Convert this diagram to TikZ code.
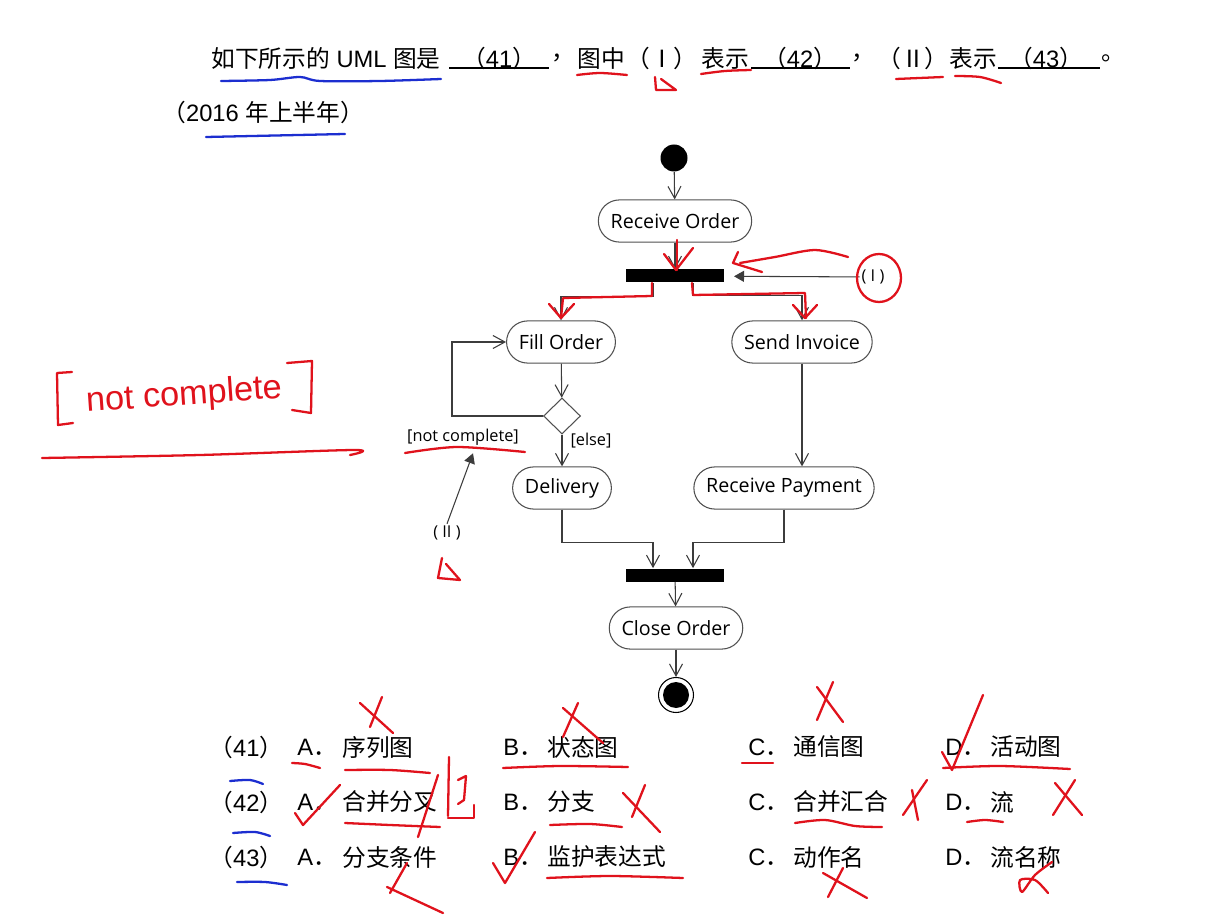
\documentclass[tikz,border=0pt]{standalone}
\usepackage{fontspec}
\setmainfont{Liberation Sans}
\newfontfamily\zhfont{Noto Sans CJK SC}
\newfontfamily\uifont{Open Sans}
\usetikzlibrary{arrows.meta,positioning,calc,shapes.geometric}
\definecolor{cline}{HTML}{3C3C3C}
\definecolor{cedge}{HTML}{505050}
\definecolor{cink}{HTML}{E0121C}
\definecolor{cpen}{HTML}{1C2ED0}

\begin{document}
\begin{tikzpicture}[
  x=0.02cm,y=-0.02cm,
  font=\fontsize{13.5}{16}\selectfont,
  act/.style={draw=cedge,fill=white,rounded corners=12pt,minimum height=24pt,
              inner xsep=7pt,line width=0.6pt,font=\uifont\fontsize{11.2}{13}\selectfont},
  syncbar/.style={fill=black,minimum width=1.96cm,minimum height=0.26cm,inner sep=0pt},
  startdot/.style={circle,fill=black,minimum size=0.54cm,inner sep=0pt},
  enddot/.style={circle,draw=black,line width=0.6pt,minimum size=0.7cm,inner sep=0pt,
                 path picture={\fill[black] (path picture bounding box.center) circle (0.26cm);}},
  decision/.style={diamond,draw=cedge,fill=white,minimum width=0.74cm,minimum height=0.72cm,
                   inner sep=0pt,line width=0.6pt},
  flow/.style={-{Straight Barb[length=2.4mm,width=2.6mm]},line width=0.6pt,cline},
  pointer/.style={-{Triangle[length=2mm,width=2.2mm]},line width=0.6pt,cline},
  guard/.style={font=\uifont\fontsize{9.3}{11}\selectfont,inner sep=1pt},
  txt/.style={anchor=west,inner sep=0pt},
  blank/.style={line width=1pt,black},
  ink/.style={draw=cink,line width=1.3pt,line cap=round,line join=round},
  pen/.style={draw=cpen,line width=1.3pt,line cap=round,line join=round}]
  \fill[white] (0,0) rectangle (1226,918);
  \useasboundingbox (0,0) rectangle (1226,918);
  % question
  \node[txt] (q0) at (211,58) {{\zhfont 如下所示的} UML {\zhfont 图是}};
  \node[inner sep=0pt] (b41) at (499,58) {{\zhfont （}41{\zhfont ）}};
  \draw[blank] (449,68) -- (549,68);
  \node[txt] (c1) at (551,58) {\zhfont ，};
  \node[txt] (q1) at (577,58) {\zhfont 图中};
  \node[inner sep=0pt] (r1) at (662,58) {\zhfont （Ⅰ）};
  \node[txt] (q2) at (701,58) {\zhfont 表示};
  \node[inner sep=0pt] (b42) at (800,58) {{\zhfont （}42{\zhfont ）}};
  \draw[blank] (751,68) -- (850,68);
  \node[txt] (c2) at (851,58) {\zhfont ，};
  \node[inner sep=0pt] (r2) at (913,58) {\zhfont （Ⅱ）};
  \node[txt] (q3) at (949,58) {\zhfont 表示};
  \node[inner sep=0pt] (b43) at (1046,58) {{\zhfont （}43{\zhfont ）}};
  \draw[blank] (998,68) -- (1100,68);
  \node[txt] (c3) at (1101,58) {\zhfont 。};
  \node[txt] (yr) at (162,112) {{\zhfont （}2016 {\zhfont 年上半年）}};
  % activity diagram
  \node[startdot] (start) at (674,158) {};
  \node[act] (recv) at (675,221) {Receive Order};
  \node[syncbar] (fork) at (675,276) {};
  \node[act] (fill) at (561,342) {Fill Order};
  \node[act] (send) at (802,342) {Send Invoice};
  \node[decision] (dec) at (562,416) {};
  \node[act] (deliv) at (562,488) {Delivery};
  \node[act] (pay) at (784,488) {Receive Payment};
  \node[syncbar] (join) at (675,575) {};
  \node[act] (close) at (676,628) {Close Order};
  \node[enddot] (stop) at (676,695) {};
  \node[guard] (nc) at (463,437) {[not complete]};
  \node[guard] (els) at (591,441) {[else]};
  \node[guard] (li) at (873,277) {( I )};
  \node[guard] (lii) at (447,533) {( II )};
  \draw[flow] (start) -- (recv);
  \draw[flow] (recv) -- (fork);
  \draw[flow] ($(fork.south)+(-22,0)$) -- ++(0,14) -| (fill.north);
  \draw[flow] ($(fork.south)+(18,0)$) -- ++(0,13) -| (send.north);
  \draw[flow] (fill) -- (dec);
  \draw[flow] (dec.west) -- ++(-91,0) |- (fill.west);
  \draw[flow] (dec) -- (deliv);
  \draw[flow] (send) -- (send |- pay.north);
  \draw[flow] (deliv.south) -- ++(0,33) -| ($(join.north)+(-22,0)$);
  \draw[flow] (pay.south) -- ++(0,33) -| ($(join.north)+(18,0)$);
  \draw[flow] (join) -- (close);
  \draw[flow] (close) -- (stop);
  \draw[pointer,shorten >=5.5pt] (li) -- (fork);
  \draw[pointer] (lii.north) -- ($(nc.south)+(10,6)$);
  % answer options
  \foreach \row/\yy/\oa/\ob/\oc/\od in {41/747/序列图/状态图/通信图/活动图,
      42/802/合并分叉/分支/合并汇合/流, 43/857/分支条件/监护表达式/动作名/流名称}{
    \node[txt] (n\row) at (209,\yy) {{\zhfont （}\row{\zhfont ）}};
    \node[txt] (la\row) at (297,\yy) {A{\zhfont ．}};
    \node[txt] (ta\row) at (342,\yy) {\zhfont \oa};
    \node[txt] (lb\row) at (503,\yy) {B{\zhfont ．}};
    \node[txt] (tb\row) at (547,\yy) {\zhfont \ob};
    \node[txt] (lc\row) at (748,\yy) {C{\zhfont ．}};
    \node[txt] (tc\row) at (793,\yy) {\zhfont \oc};
    \node[txt] (ld\row) at (945,\yy) {D{\zhfont ．}};
    \node[txt] (td\row) at (990,\yy) {\zhfont \od};
  }
  % handwritten marks
  \draw[pen] plot[smooth] coordinates {(221,81) (270,80) (300,77) (320,81) (380,81) (441,79)};
  \draw[pen] (206,137) -- (345,134);
  \draw[ink] plot[smooth] coordinates {(577,75) (600,73) (627,75)};
  \draw[ink] (655,77) -- (656,90) -- (676,90) -- (661,79);
  \draw[ink] plot[smooth] coordinates {(701,74) (725,71) (751,70)};
  \draw[ink] (896,79) -- (943,77);
  \draw[ink] plot[smooth] coordinates {(955,76) (980,77) (1001,83)};
  \draw[ink] (677,240) -- (677,270);
  \draw[ink] (664,254) -- (676,270) -- (693,248);
  \draw[ink] (652,283) -- (652,296) -- (563,298) -- (561,318);
  \draw[ink] (549,304) -- (561,318) -- (574,304);
  \draw[ink] (692,283) -- (693,295) -- (805,293) -- (806,318);
  \draw[ink] (793,305) -- (805,318) -- (817,305);
  \draw[ink] plot[smooth] coordinates {(848,257) (815,250) (775,257) (740,263)};
  \draw[ink] (738,252) -- (733,263) -- (762,272);
  \draw[ink] (879,278) ellipse [x radius=0.44cm,y radius=0.48cm];
  \draw[ink] plot[smooth] coordinates {(405,453) (457,447) (525,452)};
  \draw[ink] (442,558) -- (438,578) -- (460,580) -- (446,564);
  \node[text=cink,font=\fontsize{19.5}{22}\selectfont,rotate=4] (hw) at (184,396) {not complete};
  \draw[ink] (72,372) -- (57,373) -- (58,425) -- (73,423);
  \draw[ink] (287,363) -- (312,361) -- (311,413) -- (292,410);
  \draw[ink] plot[smooth] coordinates {(42,458) (200,455) (355,450) (350,455)};
  % marks on options
  \draw[ink] (360,703) -- (393,733);
  \draw[ink] (382,697) -- (370,727);
  \draw[ink] plot[smooth] coordinates {(292,763) (305,764) (320,768)};
  \draw[ink] plot[smooth] coordinates {(345,770) (390,770) (430,773)};
  \draw[ink] (563,708) -- (603,743);
  \draw[ink] (578,703) -- (563,737);
  \draw[ink] plot[smooth] coordinates {(503,768) (560,766) (628,767)};
  \draw[ink] (817,687) -- (843,722);
  \draw[ink] (833,682) -- (817,720);
  \draw[ink] (742,763) -- (773,763);
  \draw[ink] (942,752) -- (952,770) -- (983,695);
  \draw[ink] plot[smooth] coordinates {(943,768) (1000,766) (1070,769)};
  \draw[pen] plot[smooth] coordinates {(230,781) (250,780) (263,784)};
  \draw[pen] plot[smooth] coordinates {(233,833) (255,832) (270,836)};
  \draw[pen] plot[smooth] coordinates {(237,882) (265,882) (287,885)};
  \draw[ink] (295,813) -- (303,825) -- (340,785);
  \draw[ink] plot[smooth] coordinates {(345,823) (390,825) (440,827)};
  \draw[ink] (438,775) -- (418,837);
  \draw[ink] (449,757) -- (448,816);
  \draw[ink] (458,780) -- (466,776) -- (464,800) -- (458,804);
  \draw[ink] (448,818) -- (474,818) -- (474,805);
  \draw[ink] (623,793) -- (660,832);
  \draw[ink] (645,785) -- (632,817);
  \draw[ink] plot[smooth] coordinates {(550,825) (590,824) (622,827)};
  \draw[ink] (927,780) -- (903,815);
  \draw[ink] (912,790) -- (918,820);
  \draw[ink] plot[smooth] coordinates {(795,823) (825,820) (855,826) (882,827)};
  \draw[ink] (1075,780) -- (1053,815);
  \draw[ink] (1055,783) -- (1082,815);
  \draw[ink] plot[smooth] coordinates {(967,822) (985,820) (1003,822)};
  \draw[ink] (493,863) -- (505,883) -- (535,832);
  \draw[ink] plot[smooth] coordinates {(547,878) (610,876) (683,878)};
  \draw[ink] (387,887) -- (443,913);
  \draw[ink] (407,863) -- (390,893);
  \draw[ink] (823,873) -- (867,898);
  \draw[ink] (843,868) -- (828,897);
  \draw[ink] plot[smooth] coordinates {(1052,862) (1035,875) (1022,892) (1020,880) (1035,880) (1048,893)};
\end{tikzpicture}
\end{document}
